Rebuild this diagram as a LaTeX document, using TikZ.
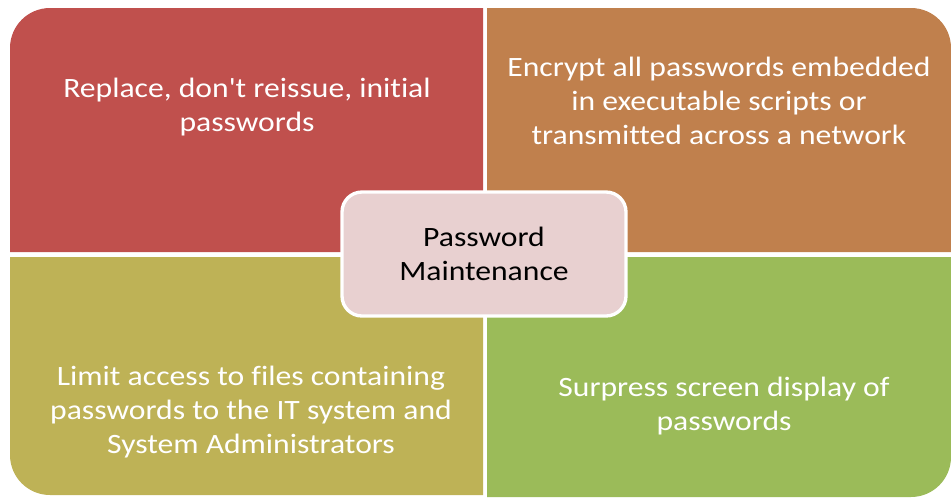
\documentclass[tikz,border=0pt]{standalone}
\usepackage{fontspec}
\setmainfont{Carlito}[FakeStretch=1.13,Ligatures={TeXOff,NoCommon}]
\usetikzlibrary{positioning}
\definecolor{quadred}{HTML}{C0504D}
\definecolor{quadorange}{HTML}{C0804D}
\definecolor{quadolive}{HTML}{BEB256}
\definecolor{quadgreen}{HTML}{9BBB59}
\definecolor{hubpink}{HTML}{E8D0D0}
\begin{document}
\begin{tikzpicture}[x=0.75pt,y=-0.75pt]
\tikzset{quadtext/.style={text=white,align=center,font=\fontsize{21}{25.5}\selectfont},
         hub/.style={rectangle,rounded corners=15pt,draw=white,line width=2.5pt,fill=hubpink,
                     minimum width=213pt,minimum height=93pt,align=center,
                     font=\fontsize{21}{25.5}\selectfont}}
\useasboundingbox (0,0) rectangle (951,497);

% quadrants, outer corner rounded
\fill[quadred] (483,252) -- (10,252) [rounded corners=30pt]-- (10,8) [sharp corners]-- (483,8) -- cycle;
\fill[quadorange] (487,252) -- (487,8) [rounded corners=30pt]-- (951,8) [sharp corners]-- (951,252) -- cycle;
\fill[quadolive] (483,257) -- (10,257) [rounded corners=30pt]-- (10,495) [sharp corners]-- (483,495) -- cycle;
\fill[quadgreen] (487,257) -- (487,497) [rounded corners=30pt]-- (951,497) [sharp corners]-- (951,257) -- cycle;

\node[quadtext] (replace) at (247,107) {Replace, don't reissue, initial\\passwords};
\node[quadtext] (encrypt) at (719,101) {Encrypt all passwords embedded\\in executable scripts or\\transmitted across a network};
\node[quadtext] (limit) at (251,412) {Limit access to files containing\\passwords to the IT system and\\System Administrators};
\node[quadtext] (surpress) at (724,406) {Surpress screen display of\\passwords};

\node[hub] (hub) at (484,254) {Password\\Maintenance};
\end{tikzpicture}
\end{document}
